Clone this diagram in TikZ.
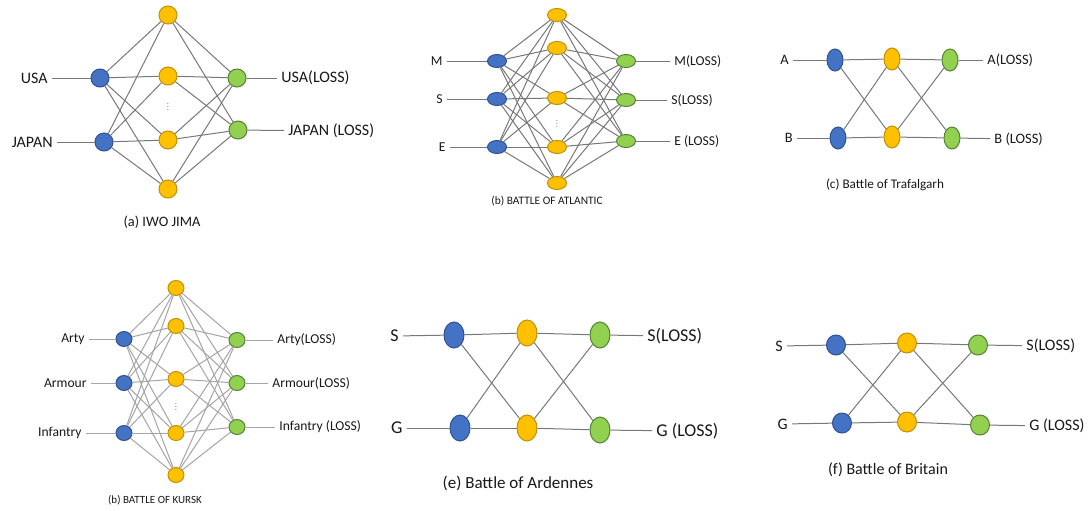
\documentclass[tikz,border=0pt]{standalone}
\usepackage{fontspec}
\setmainfont{Carlito}
\usetikzlibrary{shapes.geometric}
\definecolor{netblue}{RGB}{68,114,196}
\definecolor{netblueline}{RGB}{47,82,143}
\definecolor{netyellow}{RGB}{255,192,0}
\definecolor{netyellowline}{RGB}{191,144,0}
\definecolor{netgreen}{RGB}{146,208,80}
\definecolor{netgreenline}{RGB}{84,130,53}
\definecolor{wiregray}{RGB}{120,120,120}
\definecolor{wirelight}{RGB}{165,165,165}
\definecolor{labelink}{RGB}{25,25,25}

\def\unitw{9pt}
\def\unith{9pt}
\def\lblfont{\fontsize{8}{9}\selectfont}
\def\capfont{\fontsize{7.2}{8}\selectfont}

\tikzset{
  unit/.style={ellipse, inner sep=0pt, line width=0.5pt, minimum width=\unitw, minimum height=\unith},
  inunit/.style={unit, fill=netblue, draw=netblueline},
  hidunit/.style={unit, fill=netyellow, draw=netyellowline},
  outunit/.style={unit, fill=netgreen, draw=netgreenline},
  wire/.style={draw=wiregray, line width=0.5pt},
  lbl/.style={inner sep=2pt, text=labelink, font=\lblfont},
  caption/.style={inner sep=0pt, text=labelink, font=\capfont},
  dots/.style={inner sep=0pt, text=labelink}
}
\newcommand{\minidots}{\scalebox{0.35}{$\vdots$}}

\begin{document}
\begin{tikzpicture}[x=0.5pt, y=-0.5pt]

\fill[white] (0,0) rectangle (1092,510);
\useasboundingbox (0,0) rectangle (1092,510);

% (a) IWO JIMA
\node[inunit] (a-i1) at (100,78) {};
\node[inunit] (a-i2) at (104,142) {};
\node[hidunit] (a-h1) at (168,15) {};
\node[hidunit] (a-h2) at (168,76) {};
\node[hidunit] (a-h3) at (168,140) {};
\node[hidunit] (a-h4) at (168,189) {};
\node[dots] (a-dots) at (168,105) {\minidots};
\node[outunit] (a-o1) at (237,78) {};
\node[outunit] (a-o2) at (238,130) {};
\node[lbl, anchor=east] (a-l1) at (52,78) {USA};
\node[lbl, anchor=east] (a-l2) at (57,142) {JAPAN};
\node[lbl, anchor=west] (a-r1) at (277,78) {USA(LOSS)};
\node[lbl, anchor=west] (a-r2) at (284,131) {JAPAN (LOSS)};
\node[caption] (a-cap) at (162,222) {(a) IWO JIMA};
\foreach \i in {1,2} {
  \draw[wire] (a-l\i) -- (a-i\i);
  \draw[wire] (a-o\i) -- (a-r\i);
  \foreach \j in {1,...,4} {
    \draw[wire] (a-i\i) -- (a-h\j);
    \draw[wire] (a-h\j) -- (a-o\i);
  }
}

% (b) BATTLE OF ATLANTIC
\def\unitw{9.5pt}
\def\unith{6.5pt}
\def\lblfont{\fontsize{6.8}{8}\selectfont}
\def\capfont{\fontsize{5.7}{7}\selectfont}
\node[inunit] (b-i1) at (497,61) {};
\node[inunit] (b-i2) at (497,99) {};
\node[inunit] (b-i3) at (497,147) {};
\node[hidunit] (b-h1) at (557,15) {};
\node[hidunit] (b-h2) at (557,48) {};
\node[hidunit] (b-h3) at (557,98) {};
\node[hidunit] (b-h4) at (557,147) {};
\node[hidunit] (b-h5) at (557,183) {};
\node[dots] (b-dots) at (557,122) {\minidots};
\node[outunit] (b-o1) at (626,61) {};
\node[outunit] (b-o2) at (626,100) {};
\node[outunit] (b-o3) at (626,141) {};
\node[lbl, anchor=east] (b-l1) at (447,61) {M};
\node[lbl, anchor=east] (b-l2) at (447,99) {S};
\node[lbl, anchor=east] (b-l3) at (450,147) {E};
\node[lbl, anchor=west] (b-r1) at (670,61) {M(LOSS)};
\node[lbl, anchor=west] (b-r2) at (667,100) {S(LOSS)};
\node[lbl, anchor=west] (b-r3) at (670,141) {E (LOSS)};
\node[caption] (b-cap) at (547,201) {(b) BATTLE OF ATLANTIC};
\foreach \i in {1,2,3} {
  \draw[wire] (b-l\i) -- (b-i\i);
  \draw[wire] (b-o\i) -- (b-r\i);
  \foreach \j in {1,...,5} {
    \draw[wire] (b-i\i) -- (b-h\j);
    \draw[wire] (b-h\j) -- (b-o\i);
  }
}

% (c) Battle of Trafalgarh
\def\unitw{8pt}
\def\unith{11pt}
\def\lblfont{\fontsize{7.2}{8}\selectfont}
\def\capfont{\fontsize{6.6}{8}\selectfont}
\node[inunit] (c-i1) at (835,60) {};
\node[inunit] (c-i2) at (838,138) {};
\node[hidunit] (c-h1) at (892,59) {};
\node[hidunit] (c-h2) at (892,137) {};
\node[outunit] (c-o1) at (950,60) {};
\node[outunit] (c-o2) at (952,138) {};
\node[lbl, anchor=east] (c-l1) at (793,60) {A};
\node[lbl, anchor=east] (c-l2) at (797,138) {B};
\node[lbl, anchor=west] (c-r1) at (983,60) {A(LOSS)};
\node[lbl, anchor=west] (c-r2) at (990,139) {B (LOSS)};
\node[caption] (c-cap) at (885,185) {(c) Battle of Trafalgarh};
\foreach \i in {1,2} {
  \draw[wire] (c-l\i) -- (c-i\i);
  \draw[wire] (c-o\i) -- (c-r\i);
  \foreach \j in {1,2} {
    \draw[wire] (c-i\i) -- (c-h\j);
    \draw[wire] (c-h\j) -- (c-o\i);
  }
}

% (b) BATTLE OF KURSK (lighter wires)
\def\unitw{8pt}
\def\unith{7.5pt}
\def\lblfont{\fontsize{6.8}{8}\selectfont}
\def\capfont{\fontsize{5.5}{6}\selectfont}
\node[inunit] (d-i1) at (124,339) {};
\node[inunit] (d-i2) at (124,383) {};
\node[inunit] (d-i3) at (124,433) {};
\node[hidunit] (d-h1) at (176,288) {};
\node[hidunit] (d-h2) at (176,326) {};
\node[hidunit] (d-h3) at (176,379) {};
\node[hidunit] (d-h4) at (176,433) {};
\node[hidunit] (d-h5) at (176,475) {};
\node[dots] (d-dots) at (176,405) {\minidots};
\node[outunit] (d-o1) at (237,340) {};
\node[outunit] (d-o2) at (237,383) {};
\node[outunit] (d-o3) at (237,427) {};
\node[lbl, anchor=east] (d-l1) at (89,339) {Arty};
\node[lbl, anchor=east] (d-l2) at (91,383) {Armour};
\node[lbl, anchor=east] (d-l3) at (86,433) {Infantry};
\node[lbl, anchor=west] (d-r1) at (273,340) {Arty(LOSS)};
\node[lbl, anchor=west] (d-r2) at (268,383) {Armour(LOSS)};
\node[lbl, anchor=west] (d-r3) at (275,427) {Infantry (LOSS)};
\node[caption] (d-cap) at (155,500) {(b) BATTLE OF KURSK};
\foreach \i in {1,2,3} {
  \draw[wire, draw=wirelight] (d-l\i) -- (d-i\i);
  \draw[wire, draw=wirelight] (d-o\i) -- (d-r\i);
  \foreach \j in {1,...,5} {
    \draw[wire, draw=wirelight] (d-i\i) -- (d-h\j);
    \draw[wire, draw=wirelight] (d-h\j) -- (d-o\i);
  }
}

% (e) Battle of Ardennes
\def\unitw{10pt}
\def\unith{13pt}
\def\lblfont{\fontsize{9}{10}\selectfont}
\def\capfont{\fontsize{8.5}{10}\selectfont}
\node[inunit] (e-i1) at (454,335) {};
\node[inunit] (e-i2) at (460,428) {};
\node[hidunit] (e-h1) at (527,333) {};
\node[hidunit] (e-h2) at (527,428) {};
\node[outunit] (e-o1) at (600,335) {};
\node[outunit] (e-o2) at (600,430) {};
\node[lbl, anchor=east] (e-l1) at (403,336) {S};
\node[lbl, anchor=east] (e-l2) at (407,428) {G};
\node[lbl, anchor=west] (e-r1) at (643,336) {S(LOSS)};
\node[lbl, anchor=west] (e-r2) at (652,431) {G (LOSS)};
\node[caption] (e-cap) at (518,483) {(e) Battle of Ardennes};
\foreach \i in {1,2} {
  \draw[wire] (e-l\i) -- (e-i\i);
  \draw[wire] (e-o\i) -- (e-r\i);
  \foreach \j in {1,2} {
    \draw[wire] (e-i\i) -- (e-h\j);
    \draw[wire] (e-h\j) -- (e-o\i);
  }
}

% (f) Battle of Britain
\def\unitw{9.5pt}
\def\unith{10pt}
\def\lblfont{\fontsize{8}{9}\selectfont}
\def\capfont{\fontsize{8}{9}\selectfont}
\node[inunit] (f-i1) at (836,345) {};
\node[inunit] (f-i2) at (842,423) {};
\node[hidunit] (f-h1) at (907,343) {};
\node[hidunit] (f-h2) at (907,422) {};
\node[outunit] (f-o1) at (978,345) {};
\node[outunit] (f-o2) at (980,425) {};
\node[lbl, anchor=east] (f-l1) at (787,346) {S};
\node[lbl, anchor=east] (f-l2) at (792,424) {G};
\node[lbl, anchor=west] (f-r1) at (1022,346) {S(LOSS)};
\node[lbl, anchor=west] (f-r2) at (1025,426) {G (LOSS)};
\node[caption] (f-cap) at (888,470) {(f) Battle of Britain};
\foreach \i in {1,2} {
  \draw[wire] (f-l\i) -- (f-i\i);
  \draw[wire] (f-o\i) -- (f-r\i);
  \foreach \j in {1,2} {
    \draw[wire] (f-i\i) -- (f-h\j);
    \draw[wire] (f-h\j) -- (f-o\i);
  }
}

\end{tikzpicture}
\end{document}
